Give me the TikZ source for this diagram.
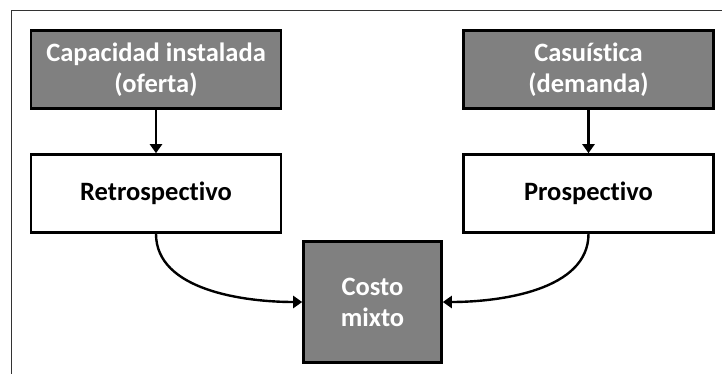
\documentclass[tikz,border=0pt]{standalone}
\usepackage{fontspec}
\setmainfont{Carlito}[Ligatures=NoCommon]
\usetikzlibrary{arrows.meta}
\definecolor{boxgray}{HTML}{808080}
\begin{document}
\begin{tikzpicture}[x=1pt,y=-1pt,
  basebox/.style={draw=black,line width=2.6pt,minimum width=250pt,minimum height=78pt,
    align=center,font=\fontsize{26.5}{31}\selectfont\bfseries,inner sep=0pt},
  darkbox/.style={basebox,fill=boxgray,text=white},
  lightbox/.style={basebox,fill=white,text=black},
  conn/.style={line width=2.4pt,-{Triangle[width=12pt,length=9pt]}}]
\useasboundingbox (0,0) rectangle (722,373);
\draw[line width=1pt,black!80] (11,380) -- (11,10.5) -- (730,10.5);
\node[darkbox] (cap) at (156,69.5) {Capacidad instalada\\(oferta)};
\node[lightbox] (ret) at (156,193.5) {Retrospectivo};
\node[darkbox] (cas) at (588.5,69.5) {Casuística\\(demanda)};
\node[lightbox] (pro) at (588.5,193.5) {Prospectivo};
\node[darkbox,minimum width=138pt,minimum height=121pt] (cos) at (372.5,302) {Costo\\mixto};
\draw[conn] (cap) -- (ret);
\draw[conn] (cas) -- (pro);
\draw[conn] (ret.south) to[out=-90,in=180,looseness=0.9] (cos.west);
\draw[conn] (pro.south) to[out=-90,in=0,looseness=0.9] (cos.east);
\end{tikzpicture}
\end{document}
